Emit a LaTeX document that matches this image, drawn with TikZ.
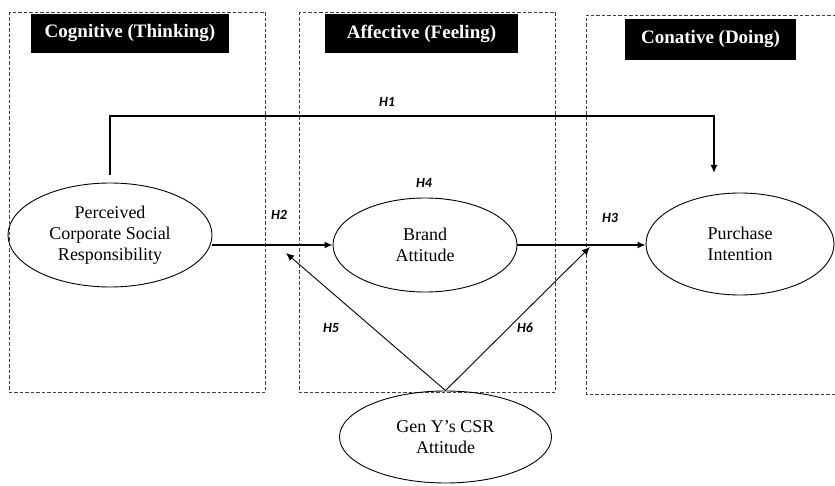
\documentclass[tikz,border=0pt]{standalone}
\usepackage{fontspec}
\setmainfont{Liberation Serif}
\newfontfamily\hfont{Carlito}
\usetikzlibrary{shapes.geometric,arrows.meta}
\tikzset{
  zone/.style={draw=black!75, dash pattern=on 3.5pt off 2pt, line width=0.9pt},
  title/.style={fill=black, text=white, font=\fontsize{19}{22}\selectfont\bfseries, inner sep=0pt},
  construct/.style={ellipse, draw, line width=0.9pt, inner sep=0pt, align=center, font=\fontsize{18}{21}\selectfont},
  hlab/.style={font=\hfont\fontsize{14}{16}\selectfont\bfseries\itshape, inner sep=0pt},
  strong/.style={line width=1.5pt, -{Latex[length=8pt,width=7pt]}},
  thin/.style={line width=0.9pt, -{Latex[length=8pt,width=7pt]}}
}
\begin{document}
\begin{tikzpicture}[x=1pt,y=-1pt]
\useasboundingbox (0,0) rectangle (835,486);
% zones
\draw[zone] (9,12) rectangle (265,392);
\draw[zone] (299,12) rectangle (555,392);
\draw[zone] (836,15) -- (586,15) -- (586,394) -- (836,394);
% titles
\node[title, minimum width=198pt, minimum height=39pt] (tcog) at (130,33.5) {Cognitive (Thinking)};
\node[title, minimum width=193pt, minimum height=39pt] (taff) at (421.5,33.5) {Affective (Feeling)};
\node[title, minimum width=171pt, minimum height=41pt] (tcon) at (710.5,39.5) {Conative (Doing)};
% constructs
\node[construct, minimum width=204pt, minimum height=104pt] (pcsr) at (110,235) {Perceived\\Corporate Social\\Responsibility};
\node[construct, minimum width=184pt, minimum height=94pt] (ba) at (425,245) {Brand\\Attitude};
\node[construct, minimum width=188pt, minimum height=102pt] (pi) at (740,244) {Purchase\\Intention};
\node[construct, minimum width=212pt, minimum height=92pt] (geny) at (445.5,437) {Gen Y’s CSR\\Attitude};
% helper coordinates
\coordinate (h1top) at (714,116);
\coordinate (h1end) at (714,173);
\coordinate (h5end) at (286,253);
\coordinate (h6end) at (590,247);
% connectors
\draw[strong] ([yshift=8pt]pcsr.north) -- (pcsr.north |- h1top) -- (h1top) -- (h1end);
\draw[strong] (pcsr.east |- ba.west) -- (ba.west);
\draw[strong] (ba.east) -- (ba.east -| pi.west);
\draw[thin] (geny.north) -- (h5end);
\draw[thin] (geny.north) -- (h6end);
% labels
\node[hlab] (l1) at (387,102) {H1};
\node[hlab] (l2) at (279,215) {H2};
\node[hlab] (l3) at (610,218) {H3};
\node[hlab] (l4) at (424,183) {H4};
\node[hlab] (l5) at (331,328) {H5};
\node[hlab] (l6) at (525,328) {H6};
\end{tikzpicture}
\end{document}
